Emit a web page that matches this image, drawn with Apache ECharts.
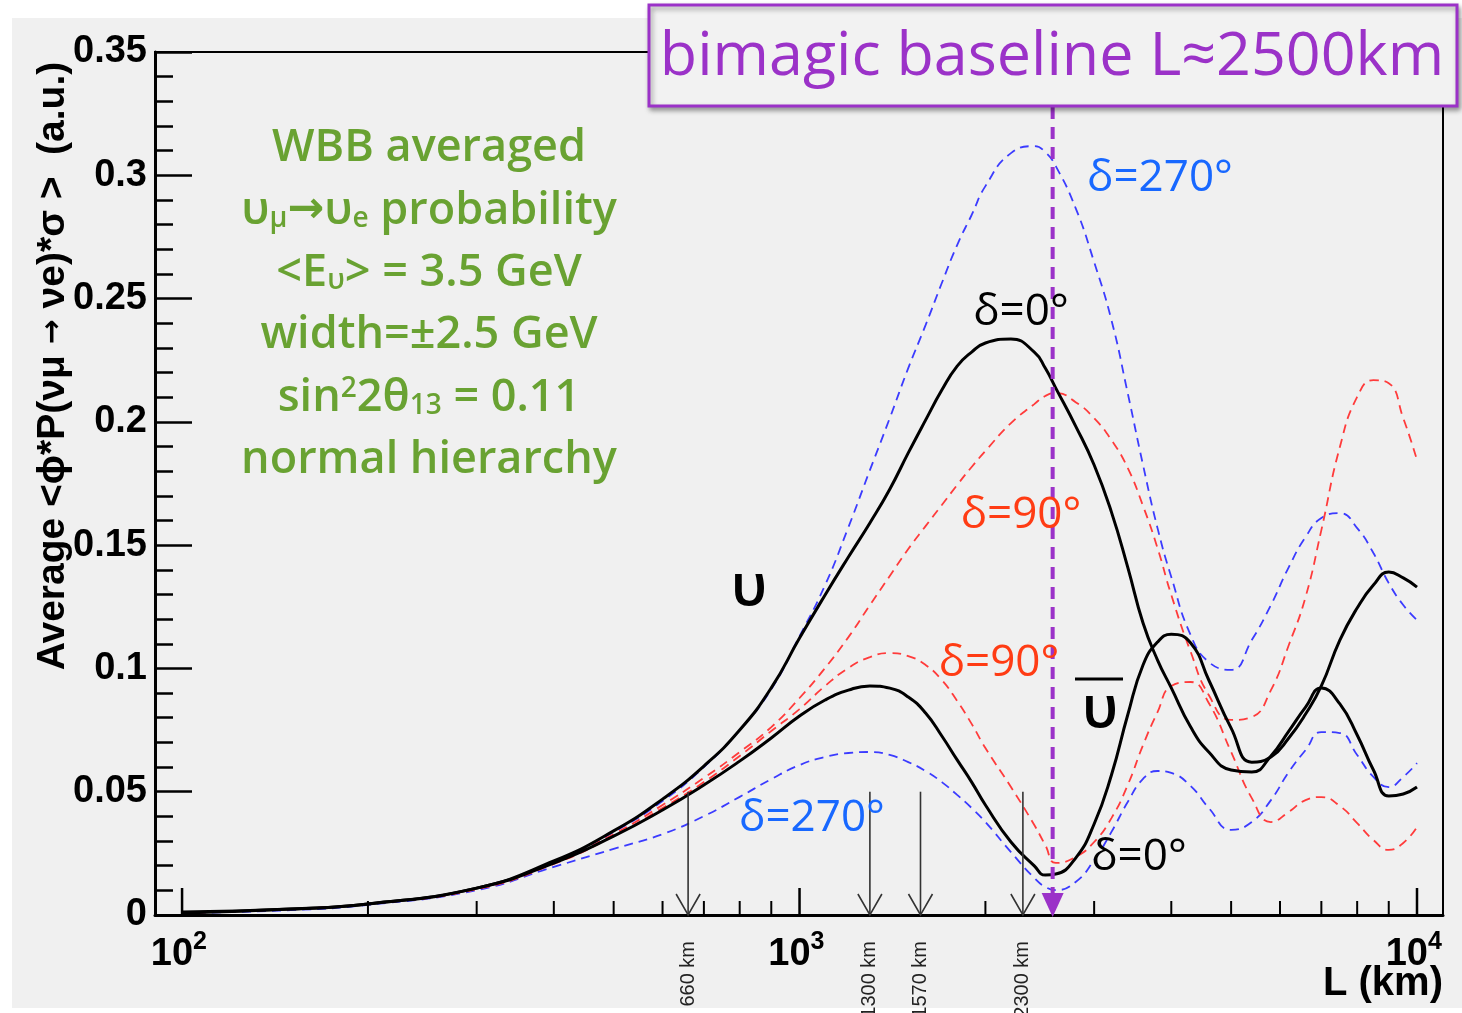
<!DOCTYPE html>
<html>
<head>
<meta charset="utf-8">
<title>WBB averaged appearance probability vs baseline</title>
<script src="https://cdn.jsdelivr.net/npm/echarts@6.0.0/dist/echarts.min.js"></script>
<style>
html,body{margin:0;padding:0;background:#ffffff;overflow:hidden;}
#chart{width:1462px;height:1013px;}
</style>
</head>
<body>
<div id="chart"></div>
<script>
// ---------------- data ----------------
const L = [100,150,200,300,400,500,600,700,800,900,1000,1100,1200,1300,1400,1500,1600,1700,1800,1900,2000,2200,2400,2500,2600,2800,3000,3200,3400,3600,3800,4000,4300,4600,5000,5400,5800,6200,6600,7000,7500,8000,8500,9000,9500,10000];

// neutrino, delta = 0 (black solid)
const nuDelta0 = [0.0012,0.0024,0.0045,0.0109,0.0219,0.0341,0.0470,0.0604,0.0750,0.0921,0.1123,0.1298,0.1452,0.1590,0.1727,0.1874,0.2007,0.2129,0.2226,0.2283,0.2320,0.2336,0.2283,0.2218,0.2137,0.1983,0.1825,0.1634,0.1411,0.1184,0.1034,0.0921,0.0762,0.0661,0.0588,0.0580,0.0645,0.0746,0.0843,0.0921,0.0856,0.0730,0.0588,0.0483,0.0491,0.0519];
// antineutrino, delta = 0 (black solid)
const nubarDelta0 = [0.0008,0.0024,0.0045,0.0109,0.0211,0.0320,0.0426,0.0527,0.0624,0.0718,0.0807,0.0872,0.0912,0.0929,0.0920,0.0884,0.0819,0.0726,0.0629,0.0539,0.0446,0.0296,0.0199,0.0162,0.0166,0.0231,0.0369,0.0568,0.0811,0.1014,0.1107,0.1139,0.1103,0.0953,0.0758,0.0620,0.0641,0.0718,0.0815,0.0929,0.1115,0.1245,0.1338,0.1391,0.1367,0.1330];
// neutrino, delta = 270 (blue dashed)
const nuDelta270 = [0.0008,0.0024,0.0045,0.0105,0.0215,0.0337,0.0462,0.0600,0.0750,0.0916,0.1131,0.1338,0.1573,0.1804,0.2015,0.2218,0.2392,0.2563,0.2717,0.2839,0.2956,0.3090,0.3118,0.3094,0.3037,0.2867,0.2648,0.2413,0.2117,0.1825,0.1569,0.1371,0.1135,0.1026,0.0994,0.1115,0.1257,0.1411,0.1533,0.1610,0.1630,0.1569,0.1468,0.1346,0.1257,0.1196];
// neutrino, delta = 90 (red dashed)
const nuDelta90 = [0.0008,0.0024,0.0045,0.0105,0.0211,0.0328,0.0446,0.0556,0.0661,0.0762,0.0880,0.1002,0.1127,0.1257,0.1375,0.1484,0.1577,0.1663,0.1744,0.1817,0.1882,0.1995,0.2072,0.2105,0.2117,0.2080,0.2015,0.1926,0.1813,0.1659,0.1488,0.1298,0.1067,0.0892,0.0791,0.0803,0.0912,0.1095,0.1290,0.1561,0.1898,0.2101,0.2169,0.2157,0.2015,0.1845];
// antineutrino, delta = 90 (red dashed)
const nubarDelta90 = [0.0008,0.0024,0.0045,0.0105,0.0207,0.0320,0.0434,0.0539,0.0645,0.0746,0.0835,0.0929,0.1002,0.1046,0.1062,0.1050,0.1014,0.0953,0.0868,0.0775,0.0677,0.0519,0.0365,0.0284,0.0211,0.0235,0.0296,0.0393,0.0527,0.0689,0.0823,0.0929,0.0945,0.0860,0.0661,0.0474,0.0377,0.0418,0.0466,0.0478,0.0442,0.0373,0.0304,0.0264,0.0292,0.0357];
// antineutrino, delta = 270 (blue dashed)
const nubarDelta270 = [0.0008,0.0020,0.0041,0.0101,0.0195,0.0268,0.0328,0.0401,0.0479,0.0551,0.0608,0.0641,0.0657,0.0661,0.0649,0.0620,0.0584,0.0539,0.0487,0.0434,0.0377,0.0255,0.0150,0.0114,0.0101,0.0134,0.0223,0.0337,0.0458,0.0552,0.0584,0.0576,0.0523,0.0434,0.0345,0.0377,0.0466,0.0580,0.0669,0.0742,0.0738,0.0649,0.0560,0.0519,0.0560,0.0616];

// axes
const xMin = 90.4, xMax = 11018;
const xMajorTicks = [100, 1000, 10000];
const xMajorBase = '10';
const xMajorExp = ['2', '3', '4'];
const xMinorTicks = [200,300,400,500,600,700,800,900,2000,3000,4000,5000,6000,7000,8000,9000];
const yTicks = [0, 0.05, 0.1, 0.15, 0.2, 0.25, 0.3, 0.35];
const yTickLabels = ['0', '0.05', '0.1', '0.15', '0.2', '0.25', '0.3', '0.35'];

// annotations
const baselines = [660, 1300, 1570, 2300];
const baselineLabels = ['660 km', '1300 km', '1570 km', '2300 km'];
const baselineArrowTop = 0.05;
const bimagicL = 2570;
const bimagicTop = 0.3277;

const infoLines = [
  'WBB averaged',
  'υ{s|μ}{a|→}υ{s|e} probability',
  '<E{s|υ}> = 3.5 GeV',
  'width=±2.5 GeV',
  'sin{p|2}2θ{s|13} = 0.11',
  'normal hierarchy'
];

// ---------------- chart ----------------
const chart = echarts.init(document.getElementById('chart'), null, {renderer: 'canvas'});
const pairs = arr => L.map((x, i) => [x, arr[i]]);
const DASH = [9, 6];
const BLUE = '#3b3bff', RED = '#ff3b3b';
const BLUE_T = '#1868ff', RED_T = '#ff3c14', GREEN = '#69a232', PURPLE = '#9b32c8';
const HELV = '"Liberation Sans", Arial, Helvetica, sans-serif';
const GILL = '"Open Sans", "Noto Sans", sans-serif';

function curve(name, arr, color, dashed, width, z) {
  return {
    type: 'line', name, data: pairs(arr), showSymbol: false, symbol: 'none',
    smooth: 0.5, silent: true, z,
    lineStyle: {color, width, type: dashed ? DASH : 'solid'}
  };
}

function renderMinorTick(params, api) {
  const p = api.coord([api.value(0), 0]);
  return {type: 'line', shape: {x1: p[0], y1: p[1], x2: p[0], y2: p[1] - 14},
          style: {stroke: '#000', lineWidth: 2}};
}
function renderMajorTick(params, api) {
  const i = params.dataIndex;
  const p = api.coord([api.value(0), 0]);
  return {type: 'group', children: [
    {type: 'line', shape: {x1: p[0], y1: p[1], x2: p[0], y2: p[1] - 27}, style: {stroke: '#000', lineWidth: 2.5}},
    {type: 'text', x: p[0] + 11, y: p[1] + 40,
     style: {text: xMajorBase, fill: '#000', font: 'bold 38px ' + HELV, align: 'right', verticalAlign: 'middle', textAlign: 'right', textVerticalAlign: 'middle'}},
    {type: 'text', x: p[0] + 11, y: p[1] + 27,
     style: {text: xMajorExp[i], fill: '#000', font: 'bold 25px ' + HELV, align: 'left', verticalAlign: 'middle', textAlign: 'left', textVerticalAlign: 'middle'}}
  ]};
}
function renderBaseline(params, api) {
  const i = params.dataIndex;
  const top = api.coord([api.value(0), api.value(1)]);
  const bot = api.coord([api.value(0), 0]);
  const x = bot[0], y = bot[1];
  return {type: 'group', children: [
    {type: 'line', shape: {x1: x, y1: top[1], x2: x, y2: y}, style: {stroke: '#333', lineWidth: 1.6}},
    {type: 'polyline', shape: {points: [[x - 12, y - 21], [x, y], [x + 12, y - 21]]}, style: {stroke: '#333', lineWidth: 1.6, fill: null}},
    {type: 'text', x: x, y: y + 26, rotation: Math.PI / 2,
     style: {text: baselineLabels[i], fill: '#222', font: '20px ' + HELV, align: 'right', verticalAlign: 'middle', textAlign: 'right', textVerticalAlign: 'middle'}}
  ]};
}
function renderBimagic(params, api) {
  const top = api.coord([api.value(0), api.value(1)]);
  const bot = api.coord([api.value(0), 0]);
  const x = bot[0], y = bot[1];
  return {type: 'group', children: [
    {type: 'line', shape: {x1: x, y1: top[1], x2: x, y2: y - 20}, style: {stroke: PURPLE, lineWidth: 4, lineDash: [12, 8]}},
    {type: 'polygon', shape: {points: [[x - 11, y - 22], [x + 11, y - 22], [x, y + 2]]}, style: {fill: PURPLE}}
  ]};
}

function txt(x, y, text, font, fill, extra) {
  return Object.assign({type: 'text', x, y, z: 50, silent: true,
    style: Object.assign({text, font, fill, align: 'center', verticalAlign: 'middle', textAlign: 'center', textVerticalAlign: 'middle'}, (extra && extra.style) || {})},
    (extra && extra.el) || {});
}

const greenRich = {
  s: {fontSize: 28, fontFamily: 'Open Sans', fontWeight: 600, fill: GREEN, verticalAlign: 'bottom'},
  p: {fontSize: 28, fontFamily: 'Open Sans', fontWeight: 600, fill: GREEN, verticalAlign: 'top'},
  a: {fontSize: 44, fontFamily: 'DejaVu Sans', fontWeight: 'bold', fill: GREEN}
};
const greenY = [148, 211, 273, 335, 398, 460];

const graphics = [
  {type: 'rect', z: -100, silent: true, shape: {x: 12, y: 18, width: 1450, height: 990}, style: {fill: '#f0f0f0'}},
  // y-axis title
  txt(53, 366, 'Average <ϕ*P(νμ {a|→} νe)*σ >  (a.u.)', 'bold 39px ' + HELV, '#000',
      {el: {rotation: Math.PI / 2}, style: {rich: {a: {fontSize: 30, fontFamily: 'DejaVu Sans', fontWeight: 'bold', fill: '#000'}}}}),
  // x-axis title
  txt(1443, 984, 'L (km)', 'bold 40px ' + HELV, '#000', {style: {align: 'right', textAlign: 'right'}}),
  // curve labels
  txt(1160, 178, 'δ=270°', '500 44px ' + GILL, BLUE_T),
  txt(1021, 312, 'δ=0°', '500 44px ' + GILL, '#000'),
  txt(1021, 515, 'δ=90°', '500 44px ' + GILL, RED_T),
  txt(999, 663, 'δ=90°', '500 44px ' + GILL, RED_T),
  txt(812, 818, 'δ=270°', '500 44px ' + GILL, BLUE_T),
  txt(1139, 857, 'δ=0°', '500 44px ' + GILL, '#000'),
  txt(749, 588, 'υ', '600 58px ' + GILL, '#000'),
  txt(1100, 710, 'υ', '600 58px ' + GILL, '#000'),
  {type: 'line', z: 50, silent: true, shape: {x1: 1075, y1: 679, x2: 1123, y2: 679}, style: {stroke: '#000', lineWidth: 3}},
  // bimagic box
  {type: 'rect', z: 100, silent: true, shape: {x: 649, y: 5, width: 808, height: 101},
   style: {fill: '#f2f2f2', stroke: PURPLE, lineWidth: 3, shadowBlur: 5, shadowColor: 'rgba(0,0,0,0.35)', shadowOffsetX: 2, shadowOffsetY: 3}},
  Object.assign(txt(1052, 58, 'bimagic baseline L≈2500km', '500 61px ' + GILL, PURPLE), {z: 101})
];
infoLines.forEach((t, i) => {
  graphics.push(txt(429, greenY[i], t, '600 45px ' + GILL, GREEN, {style: {rich: greenRich}}));
});

const option = {
  animation: false,
  backgroundColor: '#ffffff',
  grid: {left: 155, right: 19, top: 52, bottom: 98, show: true, borderColor: '#000', borderWidth: 2,
         backgroundColor: 'transparent', containLabel: false, outerBoundsMode: 'none'},
  xAxis: {
    type: 'log', logBase: 10, min: xMin, max: xMax,
    axisLine: {show: true, onZero: false, lineStyle: {color: '#000', width: 3}},
    axisTick: {show: false}, axisLabel: {show: false},
    splitLine: {show: false}, minorTick: {show: false}, minorSplitLine: {show: false}
  },
  yAxis: {
    type: 'value', min: yTicks[0], max: yTicks[yTicks.length - 1], interval: 0.05,
    axisLine: {show: true, onZero: false, lineStyle: {color: '#000', width: 3}},
    axisTick: {show: true, inside: true, length: 37, lineStyle: {color: '#000', width: 2.5}},
    minorTick: {show: true, splitNumber: 5, length: 18, lineStyle: {color: '#000', width: 2.5}},
    axisLabel: {
      show: true, margin: 8, color: '#000', fontSize: 38, fontWeight: 'bold', fontFamily: 'Liberation Sans',
      formatter: v => {
        const k = yTicks.findIndex(t => Math.abs(t - v) < 1e-9);
        return k >= 0 ? yTickLabels[k] : '';
      }
    },
    splitLine: {show: false}, minorSplitLine: {show: false}
  },
  graphic: graphics,
  series: [
    curve('nubar d270', nubarDelta270, BLUE, true, 1.8, 2),
    curve('nu d270', nuDelta270, BLUE, true, 1.8, 2),
    curve('nubar d90', nubarDelta90, RED, true, 1.8, 2),
    curve('nu d90', nuDelta90, RED, true, 1.8, 2),
    curve('nubar d0', nubarDelta0, '#000', false, 3, 3),
    curve('nu d0', nuDelta0, '#000', false, 3, 3),
    {type: 'custom', coordinateSystem: 'cartesian2d', silent: true, clip: false, z: 4,
     data: xMinorTicks.map(v => [v, 0]), renderItem: renderMinorTick},
    {type: 'custom', coordinateSystem: 'cartesian2d', silent: true, clip: false, z: 4,
     data: xMajorTicks.map(v => [v, 0]), renderItem: renderMajorTick},
    {type: 'custom', coordinateSystem: 'cartesian2d', silent: true, clip: false, z: 5,
     data: baselines.map(v => [v, baselineArrowTop]), renderItem: renderBaseline},
    {type: 'custom', coordinateSystem: 'cartesian2d', silent: true, clip: false, z: 6,
     data: [[bimagicL, bimagicTop]], renderItem: renderBimagic}
  ]
};
chart.setOption(option);
</script>
</body>
</html>
